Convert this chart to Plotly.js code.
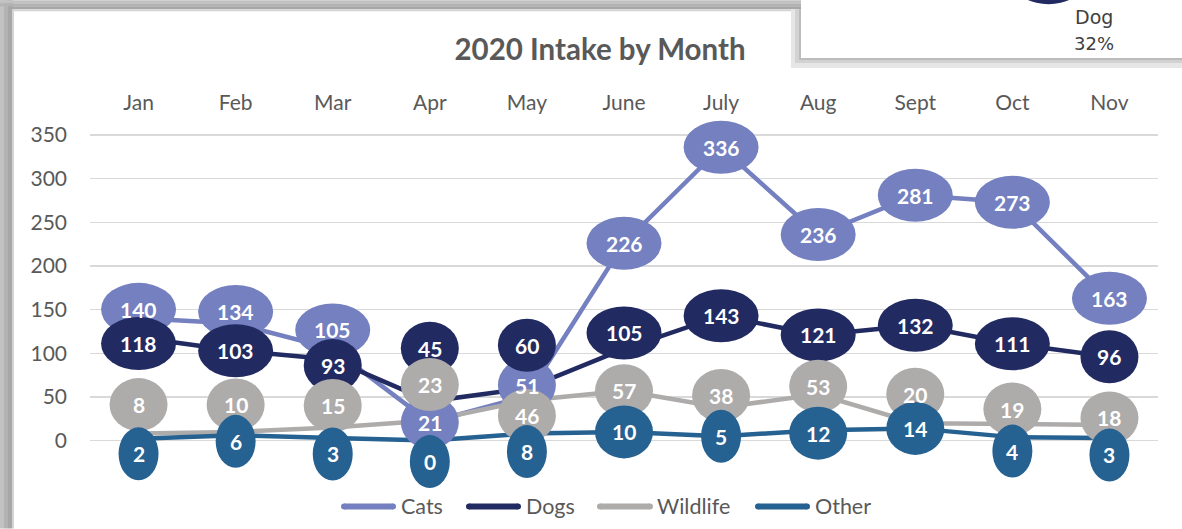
<!DOCTYPE html>
<html>
<head>
<meta charset="utf-8">
<script src="https://cdn.plot.ly/plotly-3.0.1.min.js"></script>
<style>
html,body{margin:0;padding:0;background:#fff;}
#chart{width:1182px;height:529px;}
</style>
</head>
<body>
<div id="chart"></div>
<script>
// ---- data ----
const months = ['Jan','Feb','Mar','Apr','May','June','July','Aug','Sept','Oct','Nov'];
const cats = [140,134,105,21,51,226,336,236,281,273,163];
const dogs = [118,103,93,45,60,105,143,121,132,111,96];
const wildlife = [8,10,15,23,46,57,38,53,20,19,18];
const other = [2,6,3,0,8,10,5,12,14,4,3];
const seriesNames = ['Cats','Dogs','Wildlife','Other'];
const yTicks = [0,50,100,150,200,250,300,350];
const pieLabel = 'Dog';
const piePercent = '32%';
const chartTitle = '2020 Intake by Month';

// ---- style ----
const colors = ['#7480BF','#222A62','#AEABAB','#256191'];
// label offsets in screen px (positive = down)
const labelShift = [
  [-9,-12,-19,0,-11,0,0,0,0,0,0],
  [6,0,6,-53,-43,-16,0,0,0,0,0],
  [-29,-27,-22,-36,15,0,-12,-8,-29,-15,-7],
  [15,6,16,21,18,0,0,3,0,14,17]
];
const minLabelW = [40,40,58,40];
const labelH = 53;
const FONT = 'Lato, "Open Sans", sans-serif';

const W=1182, H=529, ML=90, MR=24, MT=115, MB=35.5;
const PW = W-ML-MR, PH = H-MT-MB;
const px = x => (x-ML)/PW;
const py = y => (H-MB-y)/PH;

const series = [cats, dogs, wildlife, other];
const xs = months.map((m,i)=>i);

const traces = series.map((vals,s)=>({
  type:'scatter', mode:'lines', x: xs, y: vals, name: seriesNames[s],
  line:{color: colors[s], width:4.5}, hoverinfo:'skip', showlegend:false
}));

const shapes = [];
const annotations = [];

// frame (screenshot border)
function rect(x0,y0,x1,y1,fill){
  shapes.push({type:'rect', xref:'paper', yref:'paper', x0:px(x0), x1:px(x1), y0:py(y1), y1:py(y0),
    fillcolor:fill, line:{width:0}, layer:'above'});
}
rect(0,0,4,529,'#c2c2c2');
rect(4,0,8,529,'#b3b3b3');
rect(8,0,12,529,'#a7a7a7');
rect(12,0,14,529,'#d4d4d4');
rect(0,0,801,3,'#c2c2c2');
rect(0,3,801,6,'#b3b3b3');
rect(10,6,801,9,'#a7a7a7');
rect(12,9,801,11,'#d4d4d4');
// pie-chart overlay box with shadow
rect(791,9,801,68,'#e6e6e6');
rect(795,9,801,64,'#d2d2d2');
rect(791,58,1182,68,'#e6e6e6');
rect(795,58,1182,63,'#d2d2d2');
rect(799,9,801,60,'#bcbcbc');
rect(799,58,1182,60,'#bcbcbc');
rect(801,0,1182,58,'#ffffff');
shapes.push({type:'circle', xref:'paper', yref:'paper', x0:px(1017), x1:px(1080), y0:py(4), y1:py(-30),
  fillcolor:colors[1], line:{width:0}, layer:'above'});
annotations.push({xref:'paper', yref:'paper', x:px(1094), y:py(17), xanchor:'center', yanchor:'middle',
  text:pieLabel, showarrow:false, font:{family:'"DejaVu Sans", sans-serif', size:19, color:'#404040'}});
annotations.push({xref:'paper', yref:'paper', x:px(1094), y:py(43), xanchor:'center', yanchor:'middle',
  text:piePercent, showarrow:false, font:{family:'"DejaVu Sans", sans-serif', size:18, color:'#404040'}});

// data label ellipses
series.forEach((vals,s)=>{
  vals.forEach((v,i)=>{
    const d = String(v).length;
    let w = d<=1 ? 40 : (d===2 ? 58 : 75);
    w = Math.max(w, minLabelW[s]);
    const sh = -labelShift[s][i];
    shapes.push({type:'circle', xref:'x', yref:'y', xsizemode:'pixel', ysizemode:'pixel',
      xanchor:i, yanchor:v, x0:-w/2, x1:w/2, y0:sh-labelH/2, y1:sh+labelH/2,
      fillcolor:colors[s], line:{width:0}, layer:'above'});
  });
});
series.forEach((vals,s)=>{
  vals.forEach((v,i)=>{
    annotations.push({x:i, y:v, yshift:-labelShift[s][i], xanchor:'center', yanchor:'middle',
      text:String(v), showarrow:false,
      font:{family:FONT, size:21, color:'#ffffff', weight:700}});
  });
});

// custom legend
const legendItems = [[341,396,399],[466,521,524],[597,653,655],[755,810,813]];
const legY = 507;
legendItems.forEach((it,s)=>{
  shapes.push({type:'line', xref:'paper', yref:'paper', x0:px(it[0]+3), x1:px(it[1]-3), y0:py(legY), y1:py(legY),
    line:{color:colors[s], width:6}, layer:'above'});
  shapes.push({type:'circle', xref:'paper', yref:'paper', x0:px(it[0]), x1:px(it[0]+6), y0:py(legY+3), y1:py(legY-3),
    fillcolor:colors[s], line:{width:0}, layer:'above'});
  shapes.push({type:'circle', xref:'paper', yref:'paper', x0:px(it[1]-6), x1:px(it[1]), y0:py(legY+3), y1:py(legY-3),
    fillcolor:colors[s], line:{width:0}, layer:'above'});
  annotations.push({xref:'paper', yref:'paper', x:px(it[2]), y:py(legY), xanchor:'left', yanchor:'middle',
    text:seriesNames[s], showarrow:false, font:{family:FONT, size:21.5, color:'#595959'}});
});

const layout = {
  width:W, height:H,
  margin:{l:ML, r:MR, t:MT, b:MB, pad:0},
  paper_bgcolor:'#ffffff', plot_bgcolor:'#ffffff',
  showlegend:false,
  title:{text:chartTitle, xref:'container', yref:'container', x:600/W, y:1-50/H, xanchor:'center', yanchor:'middle',
    font:{family:FONT, size:29.5, color:'#595959', weight:700}},
  xaxis:{range:[-0.5,10.5], side:'top', tickvals:xs, ticktext:months, showgrid:false, zeroline:false,
    showline:false, ticks:'', tickfont:{family:FONT, size:21, color:'#595959'}, fixedrange:true},
  yaxis:{range:[-60,372.9], tickvals:yTicks, showgrid:true, gridcolor:'#D9D9D9', gridwidth:1.5, zeroline:false,
    showline:false, ticks:'', ticklabelstandoff:22, tickfont:{family:FONT, size:21, color:'#595959'}, fixedrange:true},
  shapes: shapes,
  annotations: annotations
};

Plotly.newPlot('chart', traces, layout, {displayModeBar:false, staticPlot:true});
</script>
</body>
</html>
